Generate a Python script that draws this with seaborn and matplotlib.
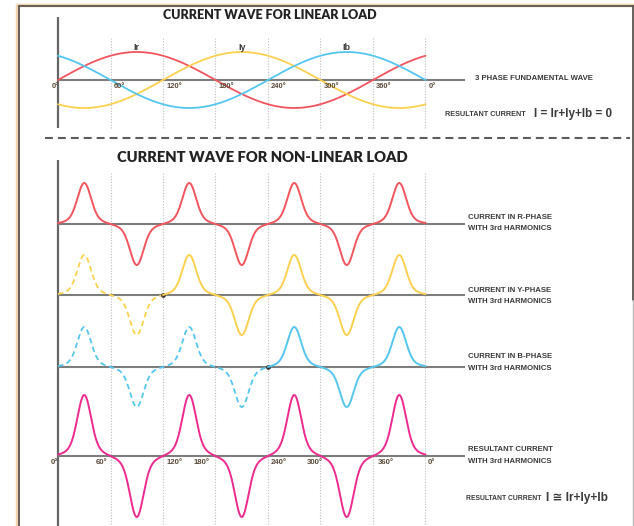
import numpy as np
import pandas as pd
import matplotlib
matplotlib.use('Agg')
import matplotlib.pyplot as plt
import seaborn as sns

# angle ticks along the time axis (degrees)
tick_deg = [0, 60, 120, 180, 240, 300, 360, 420]
tick_text = ['0°', '60°', '120°', '180°', '240°', '300°', '360°', '0°']
grid_deg = [60, 120, 180, 240, 300, 360, 420]

# linear load: three fundamental phase currents
phase_names = ['Ir', 'Iy', 'Ib']
phase_shift = [0, -120, 120]
phase_peak_deg = [90, 210, 330]
fund_amp = 28

# non-linear load: pulse currents with 3rd harmonics
pulse_centers = [30, 90, 150, 210, 270, 330, 390]
pulse_signs = [1, -1, 1, -1, 1, -1, 1]
row_labels = ['CURRENT IN R-PHASE\nWITH 3rd HARMONICS',
              'CURRENT IN Y-PHASE\nWITH 3rd HARMONICS',
              'CURRENT IN B-PHASE\nWITH 3rd HARMONICS',
              'RESULTANT CURRENT\nWITH 3rd HARMONICS']
row_amp = [41, 40, 40, 61]
row_dashed_to = [0, 120, 240, 0]

RED, YEL, BLU, MAG = '#f2555d', '#fdd14f', '#55c6ef', '#ec2a8f'
phase_colors = [RED, YEL, BLU]
row_colors = [RED, YEL, BLU, MAG]
TXT = '#3a3a3a'
TICK = '#5b4b3b'

sns.set_style('white')
narrow = ['Liberation Sans', 'DejaVu Sans']
heavy = ['Lato', 'DejaVu Sans']


def px2deg(px):
    return (px - 58) / 0.875


fig = plt.figure(figsize=(6.34, 5.26), dpi=100)
ax = fig.add_axes([0, 0, 1, 1])
ax.set_xlim(px2deg(0), px2deg(634))
ax.set_ylim(526, 0)
ax.axis('off')

# page frame
ax.plot([px2deg(17), px2deg(634)], [4.5, 4.5], color='#f3d3ae', lw=2.5, solid_capstyle='butt')
ax.plot([px2deg(17), px2deg(17)], [4.5, 526], color='#f3d3ae', lw=2.5)
ax.plot([px2deg(18.5), px2deg(634)], [5.5, 5.5], color='#5a5550', lw=1.3)
ax.plot([px2deg(18.5), px2deg(18.5)], [5.5, 526], color='#5a5550', lw=1.3)
ax.plot([px2deg(633), px2deg(633)], [5.5, 300], color='#5a5550', lw=1.3)
ax.plot([px2deg(633), px2deg(633)], [300, 526], color='#b8b8b8', lw=1.0)

# ---------------- linear load ----------------
top_base = 80
ax.vlines(grid_deg, 38, 128, colors='#bdbdbd', lw=0.8, linestyles=(0, (1, 1.5)))
ax.vlines(0, 17, 128, colors='#666666', lw=1.6)
ax.hlines(top_base, 0, px2deg(465), colors='#7d7d7d', lw=1.5)

theta = np.linspace(0, 420, 841)
for name, shift, col, pk in zip(phase_names, phase_shift, phase_colors, phase_peak_deg):
    df = pd.DataFrame({'deg': theta,
                       'y': top_base - fund_amp * np.sin(np.radians(theta + shift))})
    sns.lineplot(data=df, x='deg', y='y', ax=ax, color=col, lw=1.3,
                 sort=False, estimator=None)
    ax.text(pk, 47, name, ha='center', va='center', fontsize=6.5,
            fontweight='bold', color=TXT, family=narrow)

for d, t in zip(tick_deg, tick_text):
    xo = -7.5 if d == 0 else 3.5
    ax.text(d + xo, 87, t, ha='left', va='center', fontsize=5.4,
            fontweight='bold', color=TICK, family=narrow)

ax.text(px2deg(270), 15, 'CURRENT WAVE FOR LINEAR LOAD', ha='center', va='center',
        fontsize=9, fontweight='heavy', color='#222222', family=heavy)
ax.text(px2deg(475), 79, '3 PHASE FUNDAMENTAL WAVE', ha='left', va='center',
        fontsize=5.6, fontweight='bold', color=TXT, family=narrow)
ax.text(px2deg(445), 114, 'RESULTANT CURRENT', ha='left', va='center',
        fontsize=5.2, fontweight='bold', color=TXT, family=narrow)
ax.text(px2deg(534), 113.5, 'I = Ir+Iy+Ib = 0', ha='left', va='center',
        fontsize=8.4, fontweight='bold', color=TXT, family=narrow)

# separator
ax.hlines(137.5, px2deg(45), px2deg(630), colors='#5c5c5c', lw=1.5,
          linestyles=(0, (3.8, 2.4)))

# ---------------- non-linear load ----------------
ax.text(px2deg(262), 158, 'CURRENT WAVE FOR NON-LINEAR LOAD', ha='center', va='center',
        fontsize=10.6, fontweight='heavy', color='#222222', family=heavy)
ax.vlines(grid_deg, 173, 524, colors='#bdbdbd', lw=0.8, linestyles=(0, (1, 1.5)))
ax.vlines(0, 160, 526, colors='#666666', lw=1.6)

row_base = [224, 295, 367, 456]
row_text_y = [223, 296, 362.5, 455.5]


def pulse(t):
    s = np.zeros_like(t)
    for c, sg in zip(pulse_centers, pulse_signs):
        d = t - c
        s += sg * (0.82 * np.exp(-0.5 * (d / 7.4) ** 2) + 0.18 * np.exp(-0.5 * (d / 15) ** 2))
    return s


for base, amp, dash_to, col, lab, ty in zip(row_base, row_amp, row_dashed_to,
                                            row_colors, row_labels, row_text_y):
    ax.hlines(base, 0, px2deg(465), colors='#7d7d7d', lw=1.5)
    y = base - amp * pulse(theta)
    df = pd.DataFrame({'deg': theta, 'y': y})
    if dash_to > 0:
        part = df[df['deg'] <= dash_to]
        sns.lineplot(data=part, x='deg', y='y', ax=ax, color=col, lw=1.3,
                     sort=False, estimator=None, linestyle=(0, (3, 2)))
        ax.plot(dash_to, base, 'o', color='#333333', ms=2.4)
    part = df[df['deg'] >= dash_to]
    sns.lineplot(data=part, x='deg', y='y', ax=ax, color=col, lw=1.4,
                 sort=False, estimator=None)
    ax.text(px2deg(468), ty, lab, ha='left', va='center', fontsize=5.6,
            fontweight='bold', color=TXT, family=narrow, linespacing=1.85)

bottom_tick_x = [51, 96, 167, 194, 271, 307, 378, 428]
for px, t in zip(bottom_tick_x, tick_text):
    ax.text(px2deg(px), 463, t, ha='left', va='center', fontsize=5.6,
            fontweight='bold', color=TICK, family=narrow)

ax.text(px2deg(466), 498, 'RESULTANT CURRENT', ha='left', va='center',
        fontsize=4.9, fontweight='bold', color=TXT, family=narrow)
ax.text(px2deg(546), 497.5, 'I ≅ Ir+Iy+Ib', ha='left', va='center',
        fontsize=8.6, fontweight='bold', color=TXT, family=narrow)

fig.savefig('out.png', dpi=100)
